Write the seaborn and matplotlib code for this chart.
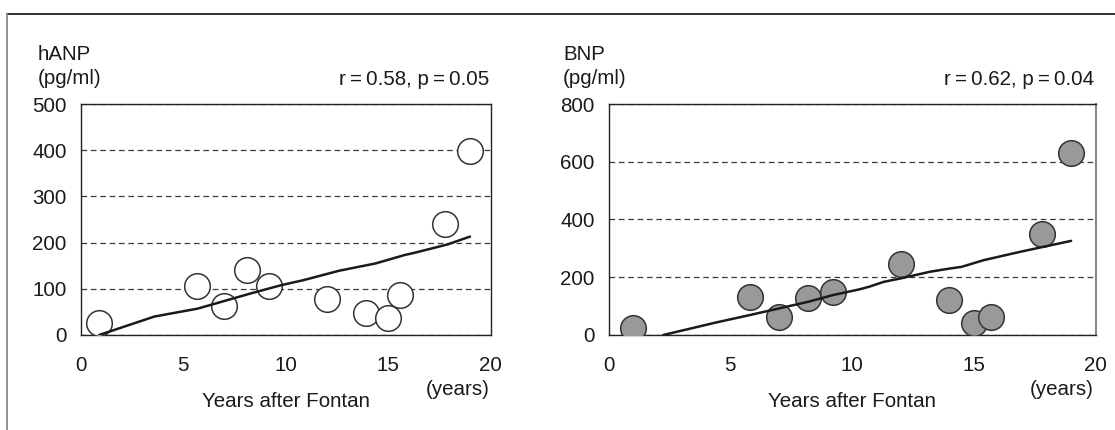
import numpy as np
import pandas as pd
import matplotlib
matplotlib.use("Agg")
import matplotlib.pyplot as plt
from matplotlib.lines import Line2D
import seaborn as sns

# ---- data ----
hanp_years = [0.9, 5.7, 7.0, 8.1, 9.2, 12.0, 13.9, 15.0, 15.6, 17.8, 19.0]
hanp_vals = [25, 106, 63, 140, 106, 77, 47, 36, 86, 240, 398]
hanp_fit_x = [0.9, 3.6, 5.7, 8.3, 9.8, 10.9, 12.6, 14.4, 15.8, 16.3, 17.9, 19.0]
hanp_fit_y = [0, 40, 57, 90, 108, 119, 139, 155, 173, 178, 196, 213]

bnp_years = [1.0, 5.8, 7.0, 8.2, 9.2, 12.0, 14.0, 15.0, 15.7, 17.8, 19.0]
bnp_vals = [23, 132, 61, 129, 150, 247, 121, 43, 63, 351, 632]
bnp_fit_x = [2.25, 4.4, 5.8, 8.2, 9.2, 10.3, 10.7, 11.3, 12.0, 13.2, 14.0, 14.5, 15.4, 16.9, 19.0]
bnp_fit_y = [0, 43, 69, 115, 138, 158, 167, 184, 196, 219, 230, 236, 259, 288, 326]

x_ticks = [0, 5, 10, 15, 20]
hanp_yticks = [0, 100, 200, 300, 400, 500]
bnp_yticks = [0, 200, 400, 600, 800]

titles = ["hANP", "BNP"]
unit = "(pg/ml)"
stats = ["r\u2009=\u20090.58, p\u2009=\u20090.05", "r\u2009=\u20090.62, p\u2009=\u20090.04"]
xlabel = "Years after Fontan"
xunit = "(years)"

sns.set_theme(style="white")
plt.rcParams['font.family'] = ['Liberation Sans', 'DejaVu Sans']

W, H = 1115, 430
fig = plt.figure(figsize=(W / 100, H / 100), dpi=100)

top_px, bot_px = 104, 335
axL = fig.add_axes([80.7 / W, 1 - bot_px / H, (490.5 - 80.7) / W, (bot_px - top_px) / H])
axR = fig.add_axes([608.5 / W, 1 - bot_px / H, (1095.5 - 608.5) / W, (bot_px - top_px) / H])

panels = [
    (axL, hanp_years, hanp_vals, hanp_fit_x, hanp_fit_y, hanp_yticks, "white", -0.106),
    (axR, bnp_years, bnp_vals, bnp_fit_x, bnp_fit_y, bnp_yticks, "#999999", -0.093),
]

FS = 14.8
for i, (ax, xs, ys, fx, fy, yt, fc, tx) in enumerate(panels):
    df = pd.DataFrame({"x": xs, "y": ys})
    sns.scatterplot(data=df, x="x", y="y", ax=ax, s=340, color=fc,
                    edgecolor="#333333", linewidth=1.1, zorder=3, legend=False)
    fdf = pd.DataFrame({"x": fx, "y": fy})
    sns.lineplot(data=fdf, x="x", y="y", ax=ax, color="#1a1a1a", linewidth=1.8,
                 zorder=4, sort=False, estimator=None)
    ax.set_xlim(0, 20)
    ax.set_ylim(yt[0], yt[-1])
    ax.set_xticks(x_ticks)
    ax.set_yticks(yt)
    ax.set_xticklabels([str(v) for v in x_ticks])
    ax.set_yticklabels([str(v) for v in yt])
    ax.set_xlabel("")
    ax.set_ylabel("")
    ax.grid(axis="y", color="#3a3a3a", linestyle=(0, (4.5, 3)), linewidth=0.9)
    ax.grid(axis="x", visible=False)
    ax.set_axisbelow(True)
    for sp in ax.spines.values():
        sp.set_color("#222222")
        sp.set_linewidth(1.0)
        sp.set_visible(True)
    ax.tick_params(axis="x", direction="in", length=8, width=1.4, color="#777777",
                   pad=15, labelsize=FS, labelcolor="#1a1a1a")
    ax.tick_params(axis="y", length=0, pad=10, labelsize=FS, labelcolor="#1a1a1a")
    # text annotations
    ax.text(tx, 1.19, titles[i], transform=ax.transAxes, fontsize=FS,
            ha="left", va="baseline", color="#1a1a1a")
    ax.text(tx, 1.085, unit, transform=ax.transAxes, fontsize=FS,
            ha="left", va="baseline", color="#1a1a1a")
    ax.text(0.997, 1.083, stats[i], transform=ax.transAxes, fontsize=FS,
            ha="right", va="baseline", color="#1a1a1a")
    ax.text(0.997, -0.235, xunit, transform=ax.transAxes, fontsize=FS,
            ha="right", va="center", color="#1a1a1a")
    ax.text(0.5, -0.29, xlabel, transform=ax.transAxes, fontsize=FS,
            ha="center", va="center", color="#1a1a1a")

axR.spines["right"].set_color("#888888")
axR.spines["right"].set_linewidth(1.5)

# outer frame (cropped figure border)
fig.add_artist(Line2D([6.5 / W, 1.0], [1 - 13.5 / H, 1 - 13.5 / H],
                      transform=fig.transFigure, color="#222222", linewidth=1.3))
fig.add_artist(Line2D([6.5 / W, 6.5 / W], [0.0, 1 - 13.5 / H],
                      transform=fig.transFigure, color="#888888", linewidth=1.3))

fig.savefig("out.png", dpi=100)
